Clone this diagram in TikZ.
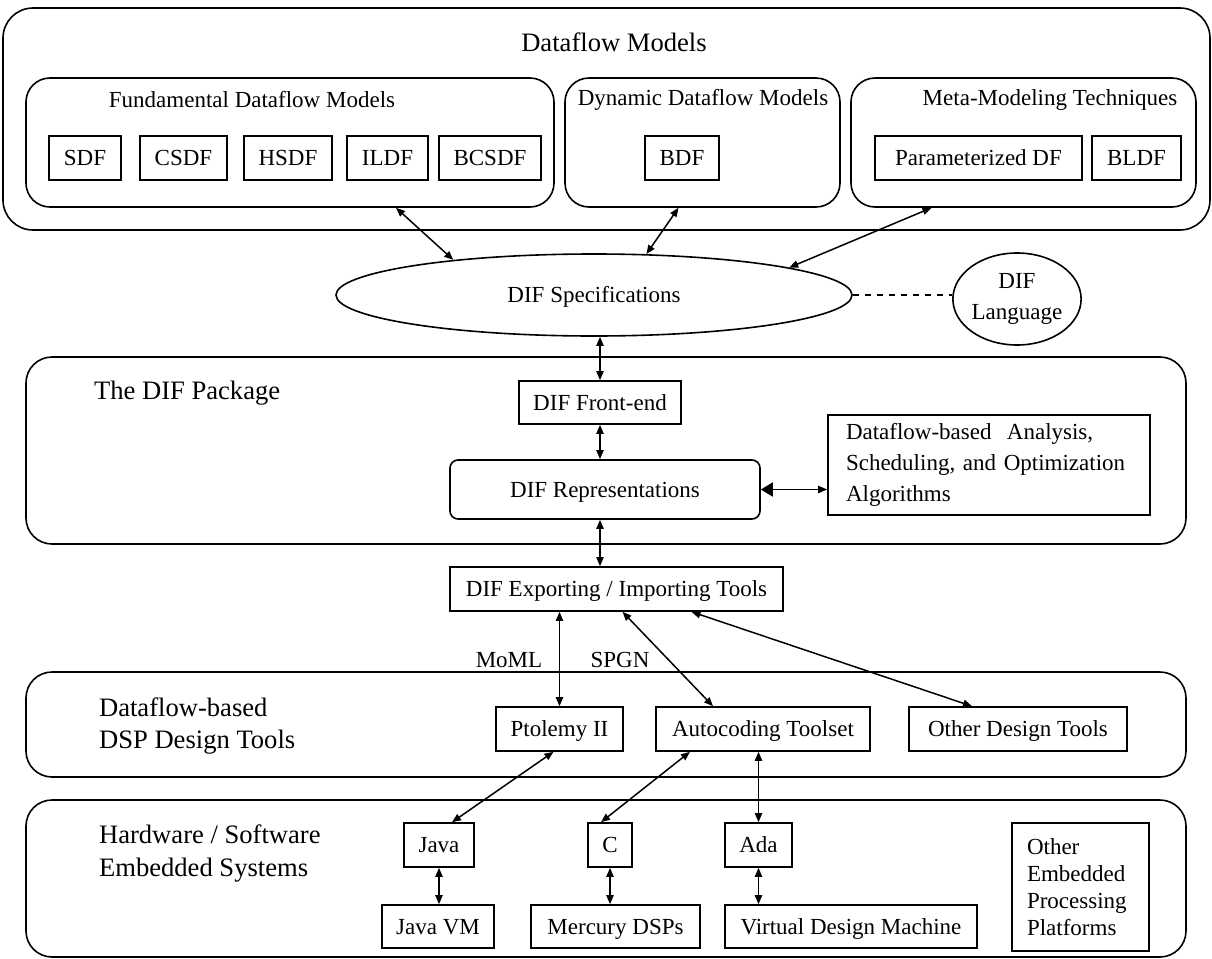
\documentclass[tikz,border=0pt]{standalone}
\usepackage{fontspec}
\setmainfont{Liberation Serif}
\usetikzlibrary{arrows.meta,shapes.geometric,fit,calc}

\begin{document}
\begin{tikzpicture}[x=0.5pt,y=-0.5pt,
  every node/.style={font=\fontsize{11.5}{13.8}\selectfont},
  panel/.style={draw, line width=0.8pt, rounded corners=13pt, inner sep=0pt},
  cell/.style={draw, line width=0.8pt, inner sep=0pt},
  oneline/.style={text height=7.6pt, text depth=0pt},
  % box given by its corners (x1,y1) (x2,y2)
  span/.style n args={4}{minimum width={((#3)-(#1))*0.5pt},
    minimum height={((#4)-(#2))*0.5pt},
    at={({((#1)+(#3))/2},{((#2)+(#4))/2})}},
  sectitle/.style={font=\fontsize{13.3}{16}\selectfont},
  dlink/.style={line width=0.75pt,
    {Triangle[length=4.5pt,width=3.6pt]}-{Triangle[length=4.5pt,width=3.6pt]}},
]
\useasboundingbox (0,0) rectangle (1212,959);

% ---------- Dataflow models ----------
\node[panel, rounded corners=15pt, fit={(3,8) (1210,230)}] (dfm) {};
\node[sectitle] (dfmtitle) at (614,42) {Dataflow Models};

\node[panel, rounded corners=12pt, fit={(26,78) (554,207)}] (fund) {};
\node (fundtitle) at (252,100) {Fundamental Dataflow Models};
\node[cell, oneline, span={49}{136}{121}{180}] (sdf) {SDF};
\node[cell, oneline, span={140}{136}{227}{180}] (csdf) {CSDF};
\node[cell, oneline, span={244}{136}{332}{180}] (hsdf) {HSDF};
\node[cell, oneline, span={347}{136}{428}{180}] (ildf) {ILDF};
\node[cell, oneline, span={439}{136}{541}{180}] (bcsdf) {BCSDF};

\node[panel, rounded corners=12pt, fit={(565,78) (840,207)}] (dyn) {};
\node (dyntitle) at (703,100) {Dynamic Dataflow Models};
\node[cell, oneline, span={645}{136}{719}{180}] (bdf) {BDF};

\node[panel, rounded corners=12pt, fit={(851,78) (1196,207)}] (meta) {};
\node (metatitle) at (1050,100) {Meta-Modeling Techniques};
\node[cell, oneline, span={875}{136}{1082}{180}] (pdf) {Parameterized DF};
\node[cell, oneline, span={1092}{136}{1181}{180}] (bldf) {BLDF};

% ---------- DIF specifications ----------
\node[draw, line width=0.8pt, ellipse, inner sep=0pt, oneline,
      minimum width=258pt, minimum height=41pt] (ell) at (594,295) {DIF Specifications};
\node[draw, line width=0.8pt, ellipse, inner sep=0pt, align=center,
      font=\fontsize{11.5}{15.5}\selectfont,
      minimum width=63pt, minimum height=46pt] (lang) at (1017,299) {DIF\\Language};
\draw[line width=0.75pt, dashed] (ell.east) -- (ell.east -| lang.west);

\draw[dlink] ($(fund.south)+(106,0)$) -- (ell.166);
\draw[dlink] ($(dyn.south)+(-24,0)$) -- (ell.38);
\draw[dlink] ($(meta.south)+(-92,0)$) -- (ell.8);

% ---------- The DIF package ----------
\node[panel, fit={(26,357) (1186,544)}] (pkg) {};
\node[sectitle, anchor=west] (pkgtitle) at (87,393) {The DIF Package};
\node[cell, oneline, span={519}{381}{681}{424}] (fe) {DIF Front-end};
\node[cell, oneline, rounded corners=4pt, span={450}{460}{760}{519}] (rep) {DIF Representations};
\node[cell, span={828}{415}{1150}{515}, text width=143pt, align=left,
      font=\fontsize{11.5}{15.5}\selectfont] (ana)
      {Dataflow-based\ \ Analysis,\\Scheduling, and Optimization\\Algorithms};

\draw[dlink] (ell.south -| fe.north) -- (fe.north);
\draw[dlink] (fe.south) -- (rep.north -| fe.south);
\draw[line width=0.75pt, {Triangle[length=6pt,width=7pt]}-{Triangle[length=4.5pt,width=3.6pt]}]
  (rep.east) -- (rep.east -| ana.west);

% ---------- Exporting / importing ----------
\node[cell, oneline, span={450}{567}{783}{611}] (exp) {DIF Exporting / Importing Tools};
\draw[dlink] (rep.south -| fe.south) -- (exp.north -| fe.south);

% ---------- Dataflow-based design tools ----------
\node[panel, fit={(26,672) (1186,777)}] (tools) {};
\node[sectitle, anchor=west, align=left] (toolstitle) at (92,726) {Dataflow-based\\DSP Design Tools};
\node[cell, oneline, span={496}{707}{623}{751}] (pto) {Ptolemy II};
\node[cell, oneline, span={656}{707}{870}{751}] (auto) {Autocoding Toolset};
\node[cell, oneline, span={909}{707}{1127}{751}] (odt) {Other Design Tools};

\node (moml) at (509,660) {MoML};
\node (spgn) at (620,660) {SPGN};

\draw[dlink] (exp.south -| pto.north) -- (pto.north);
\draw[dlink] ($(exp.south)+(6,0)$) -- ($(auto.north)+(-50,0)$);
\draw[dlink] ($(exp.south)+(75,0)$) -- ($(odt.north)+(-46,0)$);

% ---------- Hardware / software systems ----------
\node[panel, fit={(26,800) (1186,957)}] (hw) {};
\node[sectitle, anchor=west, align=left, font=\fontsize{13.3}{16.5}\selectfont]
  (hwtitle) at (92,853) {Hardware / Software\\Embedded Systems};
\node[cell, oneline, span={404}{823}{474}{867}] (java) {Java};
\node[cell, oneline, span={588}{823}{632}{867}] (clang) {C};
\node[cell, oneline, span={725}{823}{792}{867}] (ada) {Ada};
\node[cell, oneline, span={382}{905}{494}{948}] (jvm) {Java VM};
\node[cell, oneline, span={531}{905}{700}{948}] (merc) {Mercury DSPs};
\node[cell, oneline, span={725}{905}{977}{948}] (vdm) {Virtual Design Machine};
\node[cell, span={1012}{823}{1149}{951}, text width=53.5pt, align=left,
      font=\fontsize{11.5}{13.5}\selectfont] (oep) {Other\\Embedded\\Processing\\Platforms};

\draw[dlink] ($(java.north)+(13,0)$) -- ($(pto.south)+(-6,0)$);
\draw[dlink] ($(clang.north)+(-9,0)$) -- ($(auto.south)+(-73,0)$);
\draw[dlink] (ada.north) -- (auto.south -| ada.north);
\draw[dlink] (java.south) -- (jvm.north -| java.south);
\draw[dlink] (clang.south) -- (merc.north -| clang.south);
\draw[dlink] (ada.south) -- (vdm.north -| ada.south);
\end{tikzpicture}
\end{document}
